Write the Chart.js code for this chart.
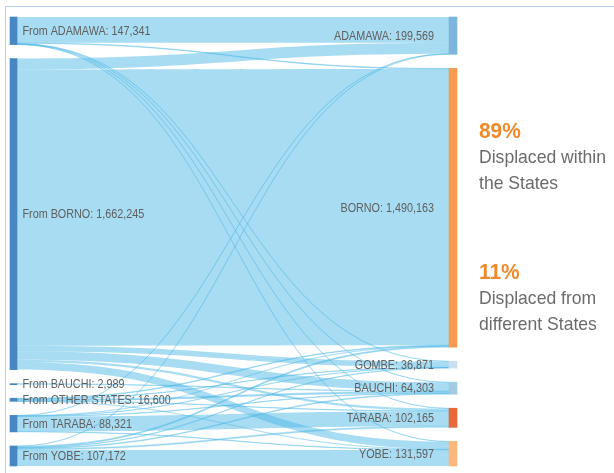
<!DOCTYPE html>
<html>
<head>
<meta charset="utf-8">
<script src="https://cdn.jsdelivr.net/npm/chart.js@4/dist/chart.umd.min.js"></script>
<style>
    body { margin: 0; background: #fff; }
    #wrap { position: relative; width: 614px; height: 473px; overflow: hidden; }
    #frame { position: absolute; left: 5px; top: 6px; right: -10px; bottom: -10px;
             border-top: 1.5px solid #b2d2ee; border-left: 1.5px solid #b2d2ee; }
    #chart { position: absolute; left: 0; top: 0; }
    .share { position: absolute; left: 479px; white-space: nowrap; transform: scaleX(0.95); transform-origin: left top;
             font-family: "Liberation Sans", Arial, sans-serif; color: #6b6b6b; font-size: 18.5px; line-height: 26px; }
    .share b { display: block; color: #f0892a; font-size: 22px; line-height: 26px; }
</style>
</head>
<body>
<div id="wrap">
    <div id="frame"></div>
    <canvas id="chart" width="614" height="473"></canvas>
    <div class="share" style="top:118px"><b>89%</b>Displaced within<br>the States</div>
    <div class="share" style="top:259px"><b>11%</b>Displaced from<br>different States</div>
</div>
<script>
// states people came from (left) and where they are now (right)
const sources = ['ADAMAWA', 'BORNO', 'BAUCHI', 'OTHER STATES', 'TARABA', 'YOBE'];
const sourceTotals = [147341, 1662245, 2989, 16600, 88321, 107172];

const targets = ['ADAMAWA', 'BORNO', 'GOMBE', 'BAUCHI', 'TARABA', 'YOBE'];
const targetTotals = [199569, 1490163, 36871, 64303, 102165, 131597];

// one row per origin state, values in the order of targets
const fromAdamawa = [138000, 3500, 1500, 1500, 1800, 1041];
const fromBorno = [58000, 1476000, 30000, 45000, 12000, 41245];
const fromBauchi = [0, 0, 0, 2989, 0, 0];
const fromOther = [0, 3600, 2000, 8000, 2000, 1000];
const fromTaraba = [1569, 1070, 871, 2500, 80000, 2311];
const fromYobe = [2000, 5993, 2500, 4314, 6365, 86000];
const flows = [fromAdamawa, fromBorno, fromBauchi, fromOther, fromTaraba, fromYobe];

const targetColors = ['#7db5db', '#f79a52', '#c9dff0', '#a1cbe3', '#e8673b', '#fbb77c'];
const sourceColor = '#4686c2';
const linkColor = 'rgba(80, 186, 230, 0.5)';
const gap = 75000;

// stack nodes from the top with a fixed gap between them
const stack = (totals) => {
    let pos = 0;
    return totals.map(v => {
        const range = [pos, pos + v];
        pos += v + gap;
        return range;
    });
}

const leftNodes = stack(sourceTotals);
const rightNodes = stack(targetTotals);
const fullHeight = leftNodes[leftNodes.length - 1][1];

const fmt = (n) => n.toLocaleString('en-US');
const labelFont = '13px "Liberation Sans", Arial, sans-serif';

// narrow text: squeeze the glyphs horizontally
const narrowText = (ctx, text, x, y) => {
    ctx.save();
    ctx.translate(x, y);
    ctx.scale(0.83, 1);
    ctx.fillText(text, 0, 0);
    ctx.restore();
}

// flows between the two columns
const linksPlugin = {
    id: 'links',
    beforeDatasetsDraw(chart) {
        const ctx = chart.ctx;
        const y = chart.scales.y;
        const leftBars = chart.getDatasetMeta(0).data;
        const rightBars = chart.getDatasetMeta(1).data;
        const x0 = leftBars[0].x + leftBars[0].width / 2;
        const x1 = rightBars[0].x - rightBars[0].width / 2;
        const xm = (x0 + x1) / 2;

        // running offsets inside each node
        const outPos = leftNodes.map(n => n[0]);
        const inPos = rightNodes.map(n => n[0]);
        const bands = [];
        flows.forEach((row, s) => {
            row.forEach((v, t) => {
                if (!v) return;
                bands.push({ s, t, v, sy: outPos[s] });
                outPos[s] += v;
            });
        });
        // at the target, incoming flows are ordered by origin
        targets.forEach((_, t) => {
            bands.filter(b => b.t === t).sort((a, b) => a.s - b.s).forEach(b => {
                b.ty = inPos[t];
                inPos[t] += b.v;
            });
        });

        ctx.save();
        ctx.fillStyle = linkColor;
        ctx.strokeStyle = linkColor;
        bands.forEach(b => {
            const sTop = y.getPixelForValue(b.sy);
            const sBot = y.getPixelForValue(b.sy + b.v);
            const tTop = y.getPixelForValue(b.ty);
            const tBot = y.getPixelForValue(b.ty + b.v);
            ctx.beginPath();
            ctx.moveTo(x0, sTop);
            ctx.bezierCurveTo(xm, sTop, xm, tTop, x1, tTop);
            ctx.lineTo(x1, tBot);
            ctx.bezierCurveTo(xm, tBot, xm, sBot, x0, sBot);
            ctx.closePath();
            ctx.fill();
            if (sBot - sTop < 2) {
                ctx.lineWidth = 0.6;
                ctx.stroke();
            }
        });
        ctx.restore();
    },
    afterDatasetsDraw(chart) {
        const ctx = chart.ctx;
        const y = chart.scales.y;
        const leftBars = chart.getDatasetMeta(0).data;
        const rightBars = chart.getDatasetMeta(1).data;
        ctx.save();
        ctx.font = labelFont;
        ctx.fillStyle = '#606060';
        ctx.textBaseline = 'middle';
        ctx.textAlign = 'left';
        sources.forEach((name, i) => {
            const mid = y.getPixelForValue((leftNodes[i][0] + leftNodes[i][1]) / 2);
            narrowText(ctx, 'From ' + name + ': ' + fmt(sourceTotals[i]), leftBars[i].x + 9, mid + 0.5);
        });
        ctx.textAlign = 'right';
        targets.forEach((name, i) => {
            const mid = y.getPixelForValue((rightNodes[i][0] + rightNodes[i][1]) / 2);
            narrowText(ctx, name + ': ' + fmt(targetTotals[i]), rightBars[i].x - 19, mid + 0.5);
        });
        ctx.restore();
    }
}

new Chart(document.getElementById('chart'), {
    type: 'bar',
    data: {
        datasets: [{
            label: 'From',
            data: leftNodes.map(n => ({ x: 0, y: n })),
            backgroundColor: sourceColor,
            barThickness: 7,
            minBarLength: 1,
            grouped: false,
            clip: false
        }, {
            label: 'To',
            data: rightNodes.map(n => ({ x: 1, y: n })),
            backgroundColor: targetColors,
            barThickness: 8,
            minBarLength: 1,
            grouped: false,
            clip: false
        }]
    },
    options: {
        responsive: false,
        animation: false,
        layout: { padding: { left: 13.5, right: 161, top: 17, bottom: 7 } },
        plugins: { legend: { display: false }, tooltip: { enabled: false } },
        scales: {
            x: { type: 'linear', min: 0, max: 1, offset: false, display: false },
            y: { min: 0, max: fullHeight, reverse: true, display: false }
        }
    },
    plugins: [linksPlugin]
});
</script>
</body>
</html>
